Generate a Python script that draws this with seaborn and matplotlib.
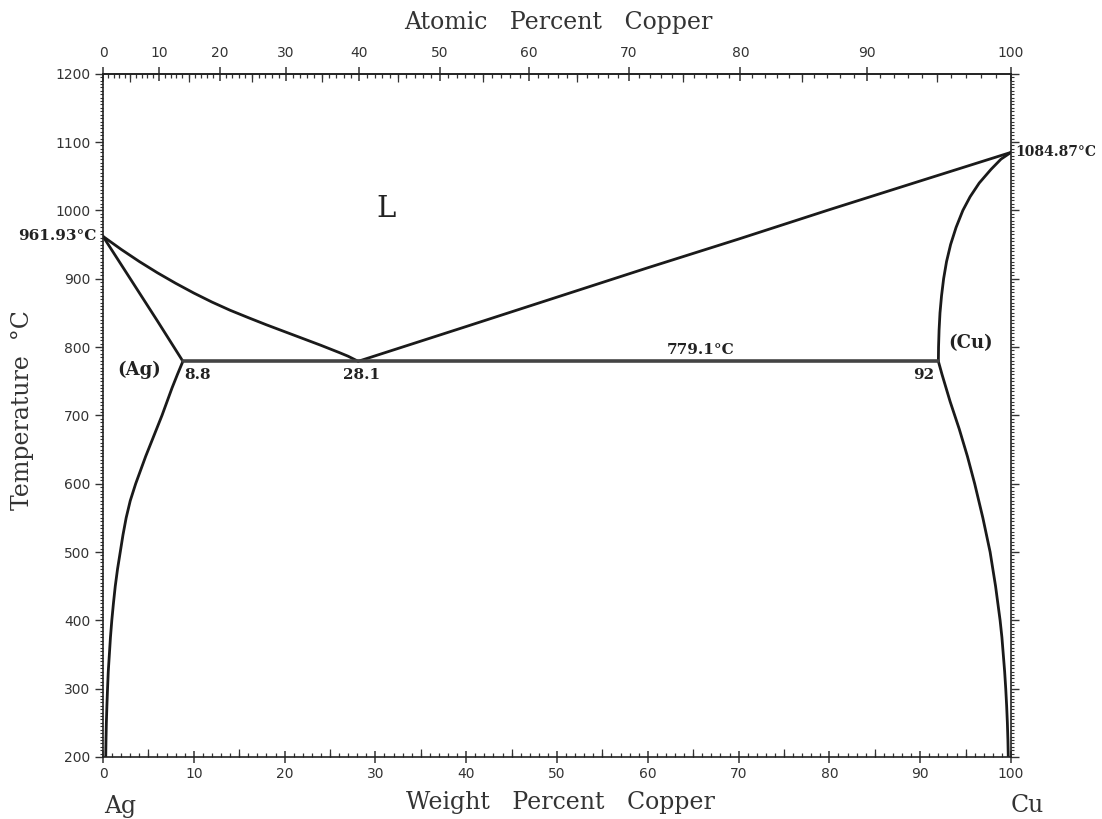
import numpy as np
import pandas as pd
import matplotlib
matplotlib.use("Agg")
import matplotlib.pyplot as plt
from matplotlib.ticker import MultipleLocator, FixedLocator, NullFormatter
import seaborn as sns

# ---------------- data ----------------
# Liquidus, Ag side (wt% Cu, T degC)
liq_ag_w = [0, 2, 4, 6, 8, 10, 12, 14, 16, 18, 20, 22, 24, 26, 27, 28.1]
liq_ag_t = [961.93, 942.9, 925.1, 908.6, 893.3, 879.0, 865.8, 853.8, 843.0,
            832.5, 822.5, 812.5, 802.5, 792.0, 786.5, 779.1]
# Solidus, Ag side
sol_ag_w = [0, 3, 6, 8.8]
sol_ag_t = [961.93, 900, 838, 779.1]
# Solvus, Ag side
svs_ag_w = [8.8, 8.2, 7.6, 7.05, 6.5, 5.9, 5.3, 4.7, 4.15, 3.6, 3.0, 2.55, 2.2,
            1.9, 1.6, 1.35, 1.15, 0.97, 0.82, 0.7, 0.58, 0.5, 0.43, 0.37, 0.33, 0.3]
svs_ag_t = [779.1, 760, 740, 720, 700, 680, 660, 640, 620, 600, 575, 550, 525,
            500, 475, 450, 425, 400, 375, 350, 325, 300, 275, 250, 225, 200]
# Liquidus, Cu side
liq_cu_w = [28.1, 40, 50, 60, 70, 80, 90, 100]
liq_cu_t = [779.1, 830, 873, 916, 958, 1001, 1043, 1084.87]
# Solidus, Cu side
sol_cu_w = [92.0, 92.02, 92.08, 92.18, 92.35, 92.58, 92.9, 93.35, 93.95, 94.7,
            95.5, 96.5, 97.8, 98.9, 100]
sol_cu_t = [779.1, 800, 825, 850, 875, 900, 925, 950, 975, 1000,
            1020, 1040, 1060, 1075, 1084.87]
# Solvus, Cu side
svs_cu_w = [92.0, 92.4, 92.85, 93.3, 93.8, 94.3, 94.75, 95.2, 95.6, 96.0, 96.45,
            96.9, 97.3, 97.7, 98.0, 98.3, 98.55, 98.8, 99.0, 99.15, 99.3, 99.42,
            99.52, 99.6, 99.66, 99.7]
svs_cu_t = [779.1, 760, 740, 720, 700, 680, 660, 640, 620, 600, 575,
            550, 525, 500, 475, 450, 425, 400, 375, 350, 325, 300,
            275, 250, 225, 200]
# Eutectic isotherm
eut_w = [8.8, 92]
eut_t = [779.1, 779.1]

bottom_ticks = list(range(0, 101, 10))
top_ticks = list(range(0, 101, 10))
y_ticks = list(range(200, 1201, 100))

M_CU, M_AG = 63.546, 107.868


def wt2at(w):
    w = np.asarray(w, dtype=float)
    a = w / M_CU
    b = (100 - w) / M_AG
    return 100 * a / (a + b)


def at2wt(a):
    a = np.asarray(a, dtype=float)
    x = a * M_CU
    y = (100 - a) * M_AG
    return 100 * x / (x + y)


# ---------------- figure ----------------
sns.set_theme(style="white")
plt.rcParams["font.family"] = ["DejaVu Sans"]

W, H = 1102, 819
fig = plt.figure(figsize=(W / 100, H / 100), dpi=100)
fig.patch.set_facecolor("white")
x0, x1 = 103, 1011
y_top, y_bot = 73.7, 757
ax = fig.add_axes([x0 / W, (H - y_bot) / H, (x1 - x0) / W, (y_bot - y_top) / H])
ax.set_facecolor("white")

curves = [
    (liq_ag_w, liq_ag_t), (sol_ag_w, sol_ag_t), (svs_ag_w, svs_ag_t),
    (liq_cu_w, liq_cu_t), (sol_cu_w, sol_cu_t), (svs_cu_w, svs_cu_t),
]
for w, t in curves:
    df = pd.DataFrame({"w": w, "t": t})
    sns.lineplot(data=df, x="w", y="t", ax=ax, sort=False, estimator=None,
                 color="#1a1a1a", linewidth=2.0)
df = pd.DataFrame({"w": eut_w, "t": eut_t})
sns.lineplot(data=df, x="w", y="t", ax=ax, sort=False, estimator=None,
             color="#444444", linewidth=2.6)

ax.set_xlim(0, 100)
ax.set_ylim(200, 1200)
ax.set_xlabel("")
ax.set_ylabel("")

for s in ax.spines.values():
    s.set_color("#222222")
    s.set_linewidth(1.2)

tick_font = dict(family="DejaVu Sans", size=10)
# bottom axis
ax.set_xticks(bottom_ticks)
ax.set_xticklabels([str(v) for v in bottom_ticks], **tick_font, color="#333333")
ax.xaxis.set_minor_locator(MultipleLocator(1))
ax.tick_params(axis="x", which="major", direction="inout", length=9, width=1.1,
               color="#333333", pad=3, bottom=True, top=False)
ax.tick_params(axis="x", which="minor", direction="in", length=3, width=0.9,
               color="#333333", bottom=True, top=False)
# mid (5s) ticks on bottom
sec_b = ax.secondary_xaxis("bottom")
sec_b.xaxis.set_major_locator(FixedLocator(list(range(5, 100, 10))))
sec_b.xaxis.set_major_formatter(NullFormatter())
sec_b.tick_params(direction="in", length=5.5, width=0.9, color="#333333")
sec_b.spines["bottom"].set_visible(False)

# left axis
ax.set_yticks(y_ticks)
ax.set_yticklabels([str(v) for v in y_ticks], **tick_font, color="#333333")
ax.yaxis.set_minor_locator(MultipleLocator(5))
ax.tick_params(axis="y", which="major", direction="out", length=6, width=1.0,
               color="#333333", pad=3, left=True, right=True)
ax.tick_params(axis="y", which="minor", direction="out", length=2.5, width=0.8,
               color="#333333", left=True, right=True)

# top axis: atomic percent
sec_t = ax.secondary_xaxis("top", functions=(wt2at, at2wt))
sec_t.set_xticks(top_ticks)
sec_t.set_xticklabels([str(v) for v in top_ticks], **tick_font, color="#333333")
sec_t.xaxis.set_minor_locator(MultipleLocator(1))
sec_t.tick_params(which="major", direction="inout", length=10, width=1.1,
                  color="#333333", pad=5)
sec_t.tick_params(which="minor", direction="in", length=3, width=0.9, color="#333333")
sec_t.spines["top"].set_color("#222222")
sec_t.spines["top"].set_linewidth(1.2)
sec_t2 = ax.secondary_xaxis("top", functions=(wt2at, at2wt))
sec_t2.xaxis.set_major_locator(FixedLocator(list(range(5, 100, 10))))
sec_t2.xaxis.set_major_formatter(NullFormatter())
sec_t2.xaxis.set_minor_locator(FixedLocator([]))
sec_t2.tick_params(which="major", direction="in", length=6, width=0.9, color="#333333")
sec_t2.spines["top"].set_visible(False)

# ---------------- text ----------------
lab_font = dict(family="DejaVu Serif", size=17, color="#333333")
fig.text(558 / W, 1 - 22 / H, "Atomic   Percent   Copper", ha="center", va="center", **lab_font)
fig.text(560 / W, 1 - 802 / H, "Weight   Percent   Copper", ha="center", va="center", **lab_font)
fig.text(23 / W, 1 - 410 / H, "Temperature  °C", ha="center", va="center",
         rotation=90, **lab_font)
fig.text(120 / W, 1 - 806 / H, "Ag", ha="center", va="center", **lab_font)
fig.text(1027 / W, 1 - 806 / H, "Cu", ha="center", va="center", **lab_font)

ann = dict(family="DejaVu Serif", size=11, fontweight="bold", color="#222222")
ax.text(-0.7, 961.93, "961.93°C", ha="right", va="center", clip_on=False, **ann)
ax.text(100.5, 1084.87, "1084.87°C", ha="left", va="center", clip_on=False,
        family="DejaVu Serif", size=10, fontweight="bold", color="#222222")
ax.text(9.0, 769, "8.8", ha="left", va="top", **ann)
ax.text(28.5, 769, "28.1", ha="center", va="top", **ann)
ax.text(91.5, 769, "92", ha="right", va="top", **ann)
ax.text(65.8, 785, "779.1°C", ha="center", va="bottom", **ann)

ax.text(31.2, 1002, "L", ha="center", va="center", family="DejaVu Serif",
        size=21, color="#222222")
ax.text(4.0, 767, "(Ag)", ha="center", va="center", family="DejaVu Serif",
        size=13, fontweight="bold", color="#222222")
ax.text(95.6, 806, "(Cu)", ha="center", va="center", family="DejaVu Serif",
        size=13, fontweight="bold", color="#222222")

fig.savefig("out.png", dpi=100, facecolor="white")
